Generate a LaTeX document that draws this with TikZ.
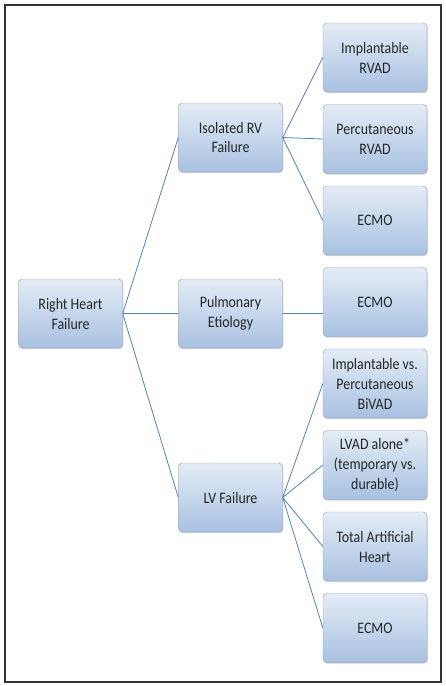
\documentclass[tikz,border=0pt]{standalone}
\usepackage{fontspec}
\setmainfont[FakeStretch=0.87]{Carlito}
\usetikzlibrary{positioning, shadows}
\definecolor{boxtop}{RGB}{228,236,246}
\definecolor{boxbottom}{RGB}{168,193,225}
\definecolor{boxline}{RGB}{150,160,175}
\definecolor{linkblue}{RGB}{79,129,189}

\begin{document}
\begin{tikzpicture}[x=1pt, y=-1pt, semithick,
    box/.style={rectangle, rounded corners=4pt, draw=boxline, thin,
      top color=boxtop, bottom color=boxbottom,
      drop shadow={shadow xshift=0.8pt, shadow yshift=-1.2pt, opacity=0.35},
      minimum width=104pt, minimum height=69pt, align=center,
      font=\fontsize{16}{20}\selectfont, text=black!85},
    link/.style={draw=linkblue, line width=0.8pt}]
      \useasboundingbox (0,0) rectangle (445,686);
      \draw[gray!40!black, line width=2pt] (5,5) rectangle (441,682);

      % middle column
      \node[box] (isorv) at (230.5,137.5) {Isolated RV\\Failure};
      \node[box] (pulm) [below of=isorv, node distance=176pt] {Pulmonary\\Etiology};
      \node[box] (lvf) [below of=pulm, node distance=184pt] {LV Failure};
      \node[box] (rhf) [left of=pulm, node distance=160pt] {Right Heart\\Failure};

      % right column
      \node[box] (implrvad) at (375,57.5) {Implantable\\RVAD};
      \node[box] (percrvad) [below of=implrvad, node distance=81.5pt] {Percutaneous\\RVAD};
      \node[box] (ecmoa) [below of=percrvad, node distance=81.5pt] {ECMO};
      \node[box] (ecmob) [below of=ecmoa, node distance=81.5pt] {ECMO};
      \node[box] (bivad) [below of=ecmob, node distance=81.5pt] {Implantable vs.\\Percutaneous\\BiVAD};
      \node[box] (lvad) [below of=bivad, node distance=81.5pt] {LVAD alone*\\(temporary vs.\\durable)};
      \node[box] (tah) [below of=lvad, node distance=81.5pt] {Total Artificial\\Heart};
      \node[box] (ecmoc) [below of=tah, node distance=81.5pt] {ECMO};

      \path[link] (rhf.east) -- (isorv.west)
            (rhf.east) -- (pulm.west)
            (rhf.east) -- (lvf.west)
            (isorv.east) -- (implrvad.west)
            (isorv.east) -- (percrvad.west)
            (isorv.east) -- (ecmoa.west)
            (pulm.east) -- (ecmob.west |- pulm.east)
            (lvf.east) -- (bivad.west)
            (lvf.east) -- (lvad.west)
            (lvf.east) -- (tah.west)
            (lvf.east) -- (ecmoc.west)
            ;
    \end{tikzpicture}
\end{document}
